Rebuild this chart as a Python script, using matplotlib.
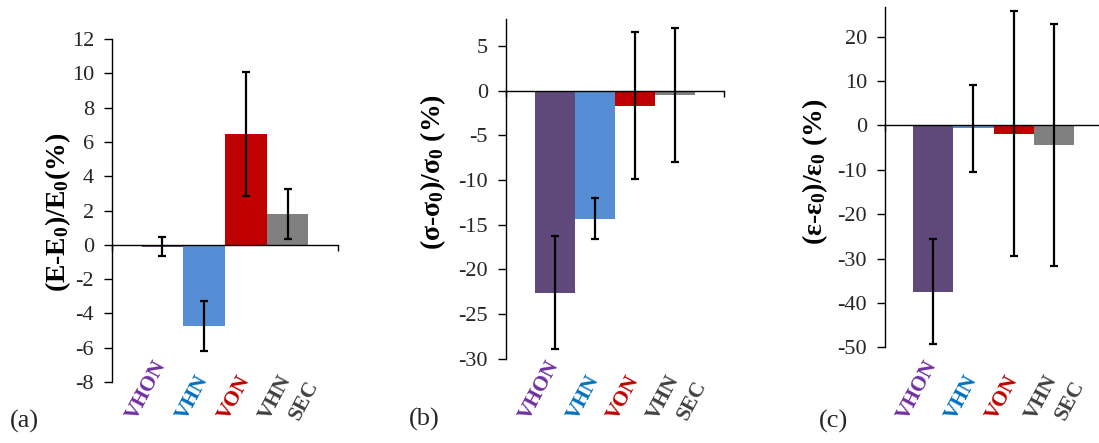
import numpy as np
import matplotlib
matplotlib.use("Agg")
import matplotlib.pyplot as plt

plt.rcParams['font.family'] = ['Liberation Serif', 'DejaVu Serif']
plt.rcParams['mathtext.fontset'] = 'custom'
plt.rcParams['mathtext.rm'] = 'Liberation Serif'
plt.rcParams['mathtext.bf'] = 'Liberation Serif:bold'
plt.rcParams['mathtext.it'] = 'Liberation Serif:italic'
plt.rcParams['axes.unicode_minus'] = False

# ---- data ----
categories = ["VHON", "VHN", "VON", "VHN\nSEC"]
bar_colors = ["#5F497A", "#558ED5", "#C00000", "#808080"]
label_colors = ["#7030A0", "#0070C0", "#C00000", "#404040"]

E_mean = [-0.1, -4.75, 6.45, 1.8]
E_err = [0.55, 1.47, 3.6, 1.47]
sig_mean = [-22.6, -14.35, -1.7, -0.5]
sig_err = [6.3, 2.3, 8.25, 7.5]
eps_mean = [-37.5, -0.6, -1.9, -4.4]
eps_err = [11.8, 9.8, 27.6, 27.2]

E_ticks = [-8, -6, -4, -2, 0, 2, 4, 6, 8, 10, 12]
sig_ticks = [-30, -25, -20, -15, -10, -5, 0, 5]
eps_ticks = [-50, -40, -30, -20, -10, 0, 10, 20]

ylabels = [r"(E-E$_\mathbf{0}$)/E$_\mathbf{0}$(%)",
           r"(σ-σ$_\mathbf{0}$)/σ$_\mathbf{0}$ (%)",
           r"(ε-ε$_\mathbf{0}$)/ε$_\mathbf{0}$ (%)"]
panel_tags = ["(a)", "(b)", "(c)"]

W, H = 1099, 443
fig = plt.figure(figsize=(W / 100, H / 100), dpi=100)

# axes rectangles in pixels: left, right, top, bottom
rects = [(112, 338, 39, 382), (506, 724, 19, 358.7), (885, 1102, 7.3, 347.3)]
ylims = [(-8, 12), (-30, 8), (-50, 26.6)]
means = [E_mean, sig_mean, eps_mean]
errs = [E_err, sig_err, eps_err]
ticks = [E_ticks, sig_ticks, eps_ticks]
ylabel_pos = [(58, 212), (433, 172), (815, 172)]
tag_pos = [(10, 428), (409, 426), (819, 428)]

angle = 62
label_y = 421
xlim = (-1.21, 4.21)
lab_fs = 15.5

fig.canvas.draw()
renderer = fig.canvas.get_renderer()

for k in range(3):
    l, r, t, b = rects[k]
    ax = fig.add_axes([l / W, 1 - b / H, (r - l) / W, (b - t) / H])
    x = np.arange(len(categories))
    ax.bar(x, means[k], width=1.0, color=bar_colors, zorder=1)
    ax.errorbar(x, means[k], yerr=errs[k], fmt='none', ecolor='black',
                elinewidth=1.6, capsize=3, capthick=1.6, zorder=4)
    ax.set_xlim(*xlim)
    ax.set_ylim(*ylims[k])
    ax.set_yticks(ticks[k])
    ax.set_yticklabels([str(v) for v in ticks[k]])
    ax.tick_params(axis='y', direction='out', length=5.5, width=1, pad=7.5,
                   labelsize=16, labelcolor='#262626', color='black')
    ax.spines['top'].set_visible(False)
    ax.spines['right'].set_visible(False)
    ax.spines['left'].set_linewidth(1)
    ax.spines['bottom'].set_position(('data', 0))
    ax.spines['bottom'].set_linewidth(1)
    ax.spines['bottom'].set_zorder(3)
    ax.set_xticks(list(xlim))
    ax.set_xticklabels(['', ''])
    ax.tick_params(axis='x', direction='out', length=4, width=1, color='black')
    ax.patch.set_visible(False)

    # y label
    fig.text(ylabel_pos[k][0] / W, 1 - ylabel_pos[k][1] / H, ylabels[k],
             rotation=90, ha='center', va='center', fontsize=20,
             fontweight='bold', color='black')
    # panel tag
    fig.text(tag_pos[k][0] / W, 1 - tag_pos[k][1] / H, panel_tags[k],
             ha='left', va='baseline', fontsize=19, color='#262626')

    # rotated category labels
    for i, lab in enumerate(categories):
        cx_disp = ax.transData.transform((x[i], 0))[0]
        lines = lab.split('\n')
        tmp = fig.text(0, 0, lines[0], fontsize=lab_fs, fontweight='bold')
        w = tmp.get_window_extent(renderer).width
        tmp.remove()
        start_x = cx_disp - w * np.cos(np.radians(angle)) + 4
        for j, line in enumerate(lines):
            fig.text((start_x + 30 * j) / W, 1 - label_y / H, line,
                     rotation=angle, rotation_mode='anchor', ha='left',
                     va='baseline', fontsize=lab_fs, fontweight='bold',
                     color=label_colors[i])

fig.savefig("out.png", dpi=100)
